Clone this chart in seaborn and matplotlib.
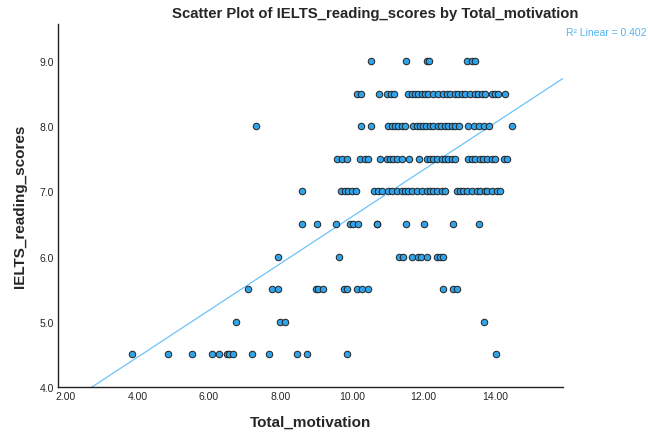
import numpy as np
import pandas as pd
import matplotlib
matplotlib.use("Agg")
import matplotlib.pyplot as plt
import seaborn as sns

# ---- data ----
motivation_90 = [10.53, 11.51, 12.10, 12.15, 13.22, 13.35, 13.44]
motivation_85 = [10.14, 10.25, 10.76, 10.98, 11.09, 11.17, 11.57, 11.68, 11.76, 11.85,
                 11.96, 12.04, 12.13, 12.27, 12.41, 12.55, 12.66, 12.74, 12.88, 12.97,
                 13.08, 13.16, 13.30, 13.44, 13.52, 13.64, 13.72, 13.92, 14.00, 14.08, 14.28]
motivation_80 = [7.31, 10.25, 10.53, 11.01, 11.12, 11.20, 11.29, 11.40, 11.48, 11.71,
                 11.82, 11.90, 11.99, 12.07, 12.18, 12.27, 12.41, 12.49, 12.60, 12.69,
                 12.80, 12.88, 12.99, 13.24, 13.41, 13.55, 13.69, 13.83, 14.48]
motivation_75 = [9.58, 9.72, 9.86, 10.22, 10.36, 10.45, 10.78, 10.98, 11.06, 11.15,
                 11.26, 11.40, 11.59, 11.87, 12.10, 12.18, 12.27, 12.38, 12.52, 12.60,
                 12.69, 12.80, 12.88, 13.24, 13.36, 13.44, 13.58, 13.66, 13.78, 13.92,
                 14.00, 14.25, 14.34]
motivation_70 = [8.60, 9.69, 9.80, 9.89, 10.00, 10.11, 10.62, 10.73, 10.84, 11.01,
                 11.12, 11.26, 11.40, 11.48, 11.57, 11.68, 11.82, 11.96, 12.10, 12.18,
                 12.27, 12.38, 12.52, 12.60, 12.94, 13.02, 13.10, 13.22, 13.36, 13.50,
                 13.58, 13.72, 13.78, 13.92, 14.06, 14.14]
motivation_65 = [8.60, 9.03, 9.55, 9.94, 10.03, 10.17, 10.70, 10.70, 11.51, 12.01, 12.82, 13.56]
motivation_60 = [7.92, 9.64, 11.31, 11.43, 11.67, 11.85, 11.93, 12.11, 12.37, 12.46, 12.55]
motivation_55 = [7.08, 7.76, 7.92, 8.99, 9.06, 9.20, 9.78, 9.86, 10.15, 10.27, 10.44,
                 12.55, 12.83, 12.93]
motivation_50 = [6.77, 7.99, 8.14, 13.70]
motivation_45 = [3.85, 4.86, 5.53, 6.09, 6.29, 6.50, 6.57, 6.68, 7.21, 7.68, 8.45, 8.73,
                 9.87, 14.02]

score_levels = [9.0, 8.5, 8.0, 7.5, 7.0, 6.5, 6.0, 5.5, 5.0, 4.5]
motivation_by_level = [motivation_90, motivation_85, motivation_80, motivation_75,
                       motivation_70, motivation_65, motivation_60, motivation_55,
                       motivation_50, motivation_45]

x_ticks = [2, 4, 6, 8, 10, 12, 14]
y_ticks = [4, 5, 6, 7, 8, 9]
r2_text = "R\u00b2 Linear = 0.402"

rows = []
for lvl, xs in zip(score_levels, motivation_by_level):
    for v in xs:
        rows.append((v, lvl))
df = pd.DataFrame(rows, columns=["Total_motivation", "IELTS_reading_scores"])

# ---- plotting ----
sns.set_theme(style="white")
plt.rcParams["font.family"] = ["Liberation Sans", "DejaVu Sans"]

fig = plt.figure(figsize=(6.48, 4.35), dpi=100)
ax = fig.add_axes([58 / 648, 1 - 388 / 435, (563 - 58) / 648, (388 - 25) / 435])

ax.set_xlim(1.78, 15.9)
ax.set_ylim(4.0, 9.57)

sns.regplot(data=df, x="Total_motivation", y="IELTS_reading_scores", ax=ax,
            scatter=False, ci=None, truncate=False,
            line_kws=dict(color="#6cc4f7", lw=0.9, zorder=1))
sns.scatterplot(data=df, x="Total_motivation", y="IELTS_reading_scores", ax=ax,
                color="#31a3ea", edgecolor="#222222", linewidth=0.7, s=22, zorder=3)

ax.set_xlim(1.78, 15.9)
ax.set_ylim(4.0, 9.57)
ax.set_xticks(x_ticks)
ax.set_xticklabels([f"{t:.2f}" for t in x_ticks], fontsize=7.5)
ax.set_yticks(y_ticks)
ax.set_yticklabels([f"{t:.1f}" for t in y_ticks], fontsize=7.5)
ax.tick_params(axis="both", length=0, pad=3)

for s in ["top", "right"]:
    ax.spines[s].set_visible(False)
for s in ["left", "bottom"]:
    ax.spines[s].set_color("#222222")
    ax.spines[s].set_linewidth(1.0)

ax.set_xlabel("Total_motivation", fontsize=11, fontweight="bold", labelpad=10)
ax.set_ylabel("IELTS_reading_scores", fontsize=11, fontweight="bold", labelpad=9)

fig.text(375 / 648, 1 - 14 / 435, "Scatter Plot of IELTS_reading_scores by Total_motivation",
         ha="center", va="center", fontsize=10.7, fontweight="bold")
fig.text(566 / 648, 1 - 33 / 435, r2_text, ha="left", va="center",
         fontsize=7.5, color="#55b4ee")

fig.savefig("out.png", dpi=100)
